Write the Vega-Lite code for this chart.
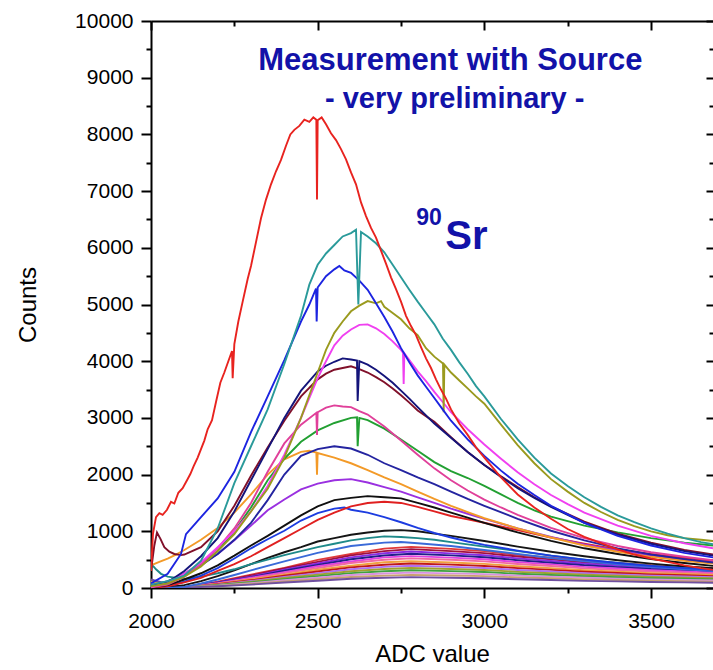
{
"$schema": "https://vega.github.io/schema/vega-lite/v6.json",
"width": 562, "height": 567,
"autosize": {"type": "none"},
"padding": {"left": 151, "top": 21, "right": 0, "bottom": 82},
"background": "white",
"config": {"view": {"stroke": null}, "font": "Liberation Sans"},
"layer": [
{
"data": {"values": [
{"s":"L1","x":2000,"y":60},{"s":"L1","x":2050,"y":20},{"s":"L1","x":2100,"y":15},{"s":"L1","x":2200,"y":110},{"s":"L1","x":2300,"y":235},{"s":"L1","x":2400,"y":355},{"s":"L1","x":2500,"y":495},{"s":"L1","x":2600,"y":600},{"s":"L1","x":2700,"y":695},{"s":"L1","x":2780,"y":725},{"s":"L1","x":2900,"y":690},{"s":"L1","x":3000,"y":650},{"s":"L1","x":3100,"y":585},{"s":"L1","x":3200,"y":535},{"s":"L1","x":3300,"y":480},{"s":"L1","x":3400,"y":440},{"s":"L1","x":3500,"y":400},{"s":"L1","x":3600,"y":375},{"s":"L1","x":3686,"y":350},
{"s":"L2","x":2000,"y":30},{"s":"L2","x":2050,"y":10},{"s":"L2","x":2100,"y":12},{"s":"L2","x":2200,"y":100},{"s":"L2","x":2300,"y":220},{"s":"L2","x":2400,"y":345},{"s":"L2","x":2500,"y":460},{"s":"L2","x":2600,"y":575},{"s":"L2","x":2700,"y":650},{"s":"L2","x":2780,"y":685},{"s":"L2","x":2900,"y":650},{"s":"L2","x":3000,"y":615},{"s":"L2","x":3100,"y":555},{"s":"L2","x":3200,"y":505},{"s":"L2","x":3300,"y":455},{"s":"L2","x":3400,"y":418},{"s":"L2","x":3500,"y":380},{"s":"L2","x":3600,"y":355},{"s":"L2","x":3686,"y":335},
{"s":"L3","x":2000,"y":90},{"s":"L3","x":2050,"y":40},{"s":"L3","x":2100,"y":13},{"s":"L3","x":2200,"y":98},{"s":"L3","x":2300,"y":200},{"s":"L3","x":2400,"y":325},{"s":"L3","x":2500,"y":432},{"s":"L3","x":2600,"y":540},{"s":"L3","x":2700,"y":612},{"s":"L3","x":2780,"y":645},{"s":"L3","x":2900,"y":610},{"s":"L3","x":3000,"y":578},{"s":"L3","x":3100,"y":522},{"s":"L3","x":3200,"y":476},{"s":"L3","x":3300,"y":428},{"s":"L3","x":3400,"y":392},{"s":"L3","x":3500,"y":356},{"s":"L3","x":3600,"y":335},{"s":"L3","x":3686,"y":312},
{"s":"L4","x":2000,"y":20},{"s":"L4","x":2050,"y":5},{"s":"L4","x":2100,"y":10},{"s":"L4","x":2200,"y":92},{"s":"L4","x":2300,"y":190},{"s":"L4","x":2400,"y":305},{"s":"L4","x":2500,"y":405},{"s":"L4","x":2600,"y":506},{"s":"L4","x":2700,"y":574},{"s":"L4","x":2780,"y":604},{"s":"L4","x":2900,"y":575},{"s":"L4","x":3000,"y":542},{"s":"L4","x":3100,"y":490},{"s":"L4","x":3200,"y":446},{"s":"L4","x":3300,"y":400},{"s":"L4","x":3400,"y":368},{"s":"L4","x":3500,"y":334},{"s":"L4","x":3600,"y":314},{"s":"L4","x":3686,"y":292},
{"s":"L5","x":2000,"y":50},{"s":"L5","x":2050,"y":15},{"s":"L5","x":2100,"y":11},{"s":"L5","x":2200,"y":85},{"s":"L5","x":2300,"y":182},{"s":"L5","x":2400,"y":278},{"s":"L5","x":2500,"y":384},{"s":"L5","x":2600,"y":468},{"s":"L5","x":2700,"y":540},{"s":"L5","x":2780,"y":562},{"s":"L5","x":2900,"y":536},{"s":"L5","x":3000,"y":506},{"s":"L5","x":3100,"y":457},{"s":"L5","x":3200,"y":416},{"s":"L5","x":3300,"y":373},{"s":"L5","x":3400,"y":344},{"s":"L5","x":3500,"y":312},{"s":"L5","x":3600,"y":293},{"s":"L5","x":3686,"y":272},
{"s":"L6","x":2000,"y":10},{"s":"L6","x":2050,"y":5},{"s":"L6","x":2100,"y":10},{"s":"L6","x":2200,"y":80},{"s":"L6","x":2300,"y":165},{"s":"L6","x":2400,"y":262},{"s":"L6","x":2500,"y":352},{"s":"L6","x":2600,"y":440},{"s":"L6","x":2700,"y":497},{"s":"L6","x":2780,"y":522},{"s":"L6","x":2900,"y":498},{"s":"L6","x":3000,"y":470},{"s":"L6","x":3100,"y":424},{"s":"L6","x":3200,"y":387},{"s":"L6","x":3300,"y":346},{"s":"L6","x":3400,"y":318},{"s":"L6","x":3500,"y":290},{"s":"L6","x":3600,"y":272},{"s":"L6","x":3686,"y":254},
{"s":"L7","x":2000,"y":120},{"s":"L7","x":2050,"y":60},{"s":"L7","x":2100,"y":9},{"s":"L7","x":2200,"y":72},{"s":"L7","x":2300,"y":152},{"s":"L7","x":2400,"y":233},{"s":"L7","x":2500,"y":322},{"s":"L7","x":2600,"y":393},{"s":"L7","x":2700,"y":453},{"s":"L7","x":2780,"y":472},{"s":"L7","x":2900,"y":450},{"s":"L7","x":3000,"y":425},{"s":"L7","x":3100,"y":383},{"s":"L7","x":3200,"y":350},{"s":"L7","x":3300,"y":313},{"s":"L7","x":3400,"y":288},{"s":"L7","x":3500,"y":262},{"s":"L7","x":3600,"y":246},{"s":"L7","x":3686,"y":228},
{"s":"L8","x":2000,"y":40},{"s":"L8","x":2050,"y":10},{"s":"L8","x":2100,"y":8},{"s":"L8","x":2200,"y":66},{"s":"L8","x":2300,"y":136},{"s":"L8","x":2400,"y":217},{"s":"L8","x":2500,"y":290},{"s":"L8","x":2600,"y":363},{"s":"L8","x":2700,"y":411},{"s":"L8","x":2780,"y":432},{"s":"L8","x":2900,"y":412},{"s":"L8","x":3000,"y":389},{"s":"L8","x":3100,"y":351},{"s":"L8","x":3200,"y":320},{"s":"L8","x":3300,"y":286},{"s":"L8","x":3400,"y":264},{"s":"L8","x":3500,"y":240},{"s":"L8","x":3600,"y":225},{"s":"L8","x":3686,"y":210},
{"s":"L9","x":2000,"y":70},{"s":"L9","x":2050,"y":30},{"s":"L9","x":2100,"y":8},{"s":"L9","x":2200,"y":60},{"s":"L9","x":2300,"y":124},{"s":"L9","x":2400,"y":197},{"s":"L9","x":2500,"y":263},{"s":"L9","x":2600,"y":330},{"s":"L9","x":2700,"y":372},{"s":"L9","x":2780,"y":392},{"s":"L9","x":2900,"y":373},{"s":"L9","x":3000,"y":353},{"s":"L9","x":3100,"y":318},{"s":"L9","x":3200,"y":290},{"s":"L9","x":3300,"y":260},{"s":"L9","x":3400,"y":240},{"s":"L9","x":3500,"y":217},{"s":"L9","x":3600,"y":204},{"s":"L9","x":3686,"y":190},
{"s":"L10","x":2000,"y":20},{"s":"L10","x":2050,"y":5},{"s":"L10","x":2100,"y":7},{"s":"L10","x":2200,"y":54},{"s":"L10","x":2300,"y":110},{"s":"L10","x":2400,"y":177},{"s":"L10","x":2500,"y":236},{"s":"L10","x":2600,"y":296},{"s":"L10","x":2700,"y":334},{"s":"L10","x":2780,"y":352},{"s":"L10","x":2900,"y":335},{"s":"L10","x":3000,"y":317},{"s":"L10","x":3100,"y":285},{"s":"L10","x":3200,"y":260},{"s":"L10","x":3300,"y":233},{"s":"L10","x":3400,"y":215},{"s":"L10","x":3500,"y":195},{"s":"L10","x":3600,"y":183},{"s":"L10","x":3686,"y":171},
{"s":"L11","x":2000,"y":30},{"s":"L11","x":2050,"y":10},{"s":"L11","x":2100,"y":6},{"s":"L11","x":2200,"y":48},{"s":"L11","x":2300,"y":98},{"s":"L11","x":2400,"y":157},{"s":"L11","x":2500,"y":209},{"s":"L11","x":2600,"y":262},{"s":"L11","x":2700,"y":296},{"s":"L11","x":2780,"y":312},{"s":"L11","x":2900,"y":297},{"s":"L11","x":3000,"y":281},{"s":"L11","x":3100,"y":252},{"s":"L11","x":3200,"y":230},{"s":"L11","x":3300,"y":206},{"s":"L11","x":3400,"y":190},{"s":"L11","x":3500,"y":173},{"s":"L11","x":3600,"y":162},{"s":"L11","x":3686,"y":151},
{"s":"L12","x":2000,"y":60},{"s":"L12","x":2050,"y":25},{"s":"L12","x":2100,"y":5},{"s":"L12","x":2200,"y":42},{"s":"L12","x":2300,"y":85},{"s":"L12","x":2400,"y":137},{"s":"L12","x":2500,"y":182},{"s":"L12","x":2600,"y":229},{"s":"L12","x":2700,"y":257},{"s":"L12","x":2780,"y":272},{"s":"L12","x":2900,"y":258},{"s":"L12","x":3000,"y":245},{"s":"L12","x":3100,"y":219},{"s":"L12","x":3200,"y":201},{"s":"L12","x":3300,"y":180},{"s":"L12","x":3400,"y":166},{"s":"L12","x":3500,"y":150},{"s":"L12","x":3600,"y":141},{"s":"L12","x":3686,"y":131},
{"s":"L13","x":2000,"y":10},{"s":"L13","x":2050,"y":5},{"s":"L13","x":2100,"y":5},{"s":"L13","x":2200,"y":36},{"s":"L13","x":2300,"y":73},{"s":"L13","x":2400,"y":117},{"s":"L13","x":2500,"y":155},{"s":"L13","x":2600,"y":195},{"s":"L13","x":2700,"y":219},{"s":"L13","x":2780,"y":232},{"s":"L13","x":2900,"y":220},{"s":"L13","x":3000,"y":209},{"s":"L13","x":3100,"y":187},{"s":"L13","x":3200,"y":171},{"s":"L13","x":3300,"y":153},{"s":"L13","x":3400,"y":141},{"s":"L13","x":3500,"y":128},{"s":"L13","x":3600,"y":121},{"s":"L13","x":3686,"y":112},
{"s":"L14","x":2000,"y":150},{"s":"L14","x":2050,"y":70},{"s":"L14","x":2100,"y":4},{"s":"L14","x":2200,"y":30},{"s":"L14","x":2300,"y":60},{"s":"L14","x":2400,"y":97},{"s":"L14","x":2500,"y":128},{"s":"L14","x":2600,"y":162},{"s":"L14","x":2700,"y":180},{"s":"L14","x":2780,"y":192},{"s":"L14","x":2900,"y":181},{"s":"L14","x":3000,"y":173},{"s":"L14","x":3100,"y":154},{"s":"L14","x":3200,"y":142},{"s":"L14","x":3300,"y":126},{"s":"L14","x":3400,"y":117},{"s":"L14","x":3500,"y":105},{"s":"L14","x":3600,"y":100},{"s":"L14","x":3686,"y":92},
{"s":"K2","x":2000,"y":30},{"s":"K2","x":2050,"y":10},{"s":"K2","x":2100,"y":50},{"s":"K2","x":2150,"y":120},{"s":"K2","x":2200,"y":210},{"s":"K2","x":2250,"y":310},{"s":"K2","x":2300,"y":420},{"s":"K2","x":2350,"y":530},{"s":"K2","x":2400,"y":630},{"s":"K2","x":2450,"y":720},{"s":"K2","x":2500,"y":820},{"s":"K2","x":2550,"y":880},{"s":"K2","x":2600,"y":940},{"s":"K2","x":2650,"y":980},{"s":"K2","x":2700,"y":1010},{"s":"K2","x":2750,"y":1020},{"s":"K2","x":2800,"y":1000},{"s":"K2","x":2850,"y":960},{"s":"K2","x":2900,"y":920},{"s":"K2","x":3000,"y":830},{"s":"K2","x":3100,"y":730},{"s":"K2","x":3200,"y":640},{"s":"K2","x":3300,"y":560},{"s":"K2","x":3400,"y":490},{"s":"K2","x":3500,"y":430},{"s":"K2","x":3600,"y":380},{"s":"K2","x":3686,"y":350},
{"s":"T2","x":2000,"y":430},{"s":"T2","x":2015,"y":330},{"s":"T2","x":2030,"y":250},{"s":"T2","x":2050,"y":200},{"s":"T2","x":2100,"y":160},{"s":"T2","x":2150,"y":200},{"s":"T2","x":2200,"y":260},{"s":"T2","x":2250,"y":330},{"s":"T2","x":2300,"y":420},{"s":"T2","x":2350,"y":500},{"s":"T2","x":2400,"y":580},{"s":"T2","x":2450,"y":650},{"s":"T2","x":2500,"y":720},{"s":"T2","x":2550,"y":780},{"s":"T2","x":2600,"y":840},{"s":"T2","x":2650,"y":880},{"s":"T2","x":2700,"y":910},{"s":"T2","x":2750,"y":900},{"s":"T2","x":2800,"y":880},{"s":"T2","x":2850,"y":850},{"s":"T2","x":2900,"y":810},{"s":"T2","x":3000,"y":730},{"s":"T2","x":3100,"y":650},{"s":"T2","x":3200,"y":570},{"s":"T2","x":3300,"y":500},{"s":"T2","x":3400,"y":440},{"s":"T2","x":3500,"y":390},{"s":"T2","x":3600,"y":350},{"s":"T2","x":3686,"y":320},
{"s":"B4","x":2000,"y":60},{"s":"B4","x":2050,"y":0},{"s":"B4","x":2100,"y":20},{"s":"B4","x":2150,"y":80},{"s":"B4","x":2200,"y":150},{"s":"B4","x":2250,"y":230},{"s":"B4","x":2300,"y":310},{"s":"B4","x":2400,"y":470},{"s":"B4","x":2500,"y":620},{"s":"B4","x":2600,"y":740},{"s":"B4","x":2700,"y":800},{"s":"B4","x":2750,"y":810},{"s":"B4","x":2800,"y":790},{"s":"B4","x":2900,"y":740},{"s":"B4","x":3000,"y":670},{"s":"B4","x":3100,"y":600},{"s":"B4","x":3200,"y":530},{"s":"B4","x":3300,"y":470},{"s":"B4","x":3400,"y":420},{"s":"B4","x":3500,"y":370},{"s":"B4","x":3600,"y":330},{"s":"B4","x":3686,"y":300},
{"s":"B3","x":2000,"y":0},{"s":"B3","x":2050,"y":40},{"s":"B3","x":2100,"y":110},{"s":"B3","x":2150,"y":220},{"s":"B3","x":2200,"y":350},{"s":"B3","x":2250,"y":520},{"s":"B3","x":2300,"y":700},{"s":"B3","x":2350,"y":860},{"s":"B3","x":2400,"y":1010},{"s":"B3","x":2450,"y":1190},{"s":"B3","x":2500,"y":1320},{"s":"B3","x":2550,"y":1400},{"s":"B3","x":2580,"y":1420},{"s":"B3","x":2600,"y":1380},{"s":"B3","x":2650,"y":1330},{"s":"B3","x":2700,"y":1250},{"s":"B3","x":2750,"y":1160},{"s":"B3","x":2800,"y":1060},{"s":"B3","x":2850,"y":970},{"s":"B3","x":2900,"y":890},{"s":"B3","x":2950,"y":820},{"s":"B3","x":3000,"y":760},{"s":"B3","x":3100,"y":660},{"s":"B3","x":3200,"y":570},{"s":"B3","x":3300,"y":500},{"s":"B3","x":3400,"y":440},{"s":"B3","x":3500,"y":390},{"s":"B3","x":3600,"y":350},{"s":"B3","x":3686,"y":320},
{"s":"R2","x":2000,"y":0},{"s":"R2","x":2050,"y":30},{"s":"R2","x":2100,"y":100},{"s":"R2","x":2150,"y":180},{"s":"R2","x":2200,"y":300},{"s":"R2","x":2250,"y":420},{"s":"R2","x":2300,"y":560},{"s":"R2","x":2350,"y":720},{"s":"R2","x":2400,"y":880},{"s":"R2","x":2450,"y":1040},{"s":"R2","x":2500,"y":1200},{"s":"R2","x":2550,"y":1330},{"s":"R2","x":2600,"y":1440},{"s":"R2","x":2650,"y":1500},{"s":"R2","x":2700,"y":1520},{"s":"R2","x":2750,"y":1500},{"s":"R2","x":2800,"y":1430},{"s":"R2","x":2850,"y":1350},{"s":"R2","x":2900,"y":1270},{"s":"R2","x":2950,"y":1210},{"s":"R2","x":3000,"y":1150},{"s":"R2","x":3100,"y":1020},{"s":"R2","x":3200,"y":890},{"s":"R2","x":3300,"y":780},{"s":"R2","x":3400,"y":680},{"s":"R2","x":3500,"y":600},{"s":"R2","x":3600,"y":530},{"s":"R2","x":3686,"y":480},
{"s":"K1","x":2000,"y":10},{"s":"K1","x":2050,"y":50},{"s":"K1","x":2100,"y":150},{"s":"K1","x":2150,"y":260},{"s":"K1","x":2200,"y":400},{"s":"K1","x":2250,"y":570},{"s":"K1","x":2300,"y":750},{"s":"K1","x":2350,"y":920},{"s":"K1","x":2400,"y":1100},{"s":"K1","x":2450,"y":1280},{"s":"K1","x":2500,"y":1440},{"s":"K1","x":2550,"y":1550},{"s":"K1","x":2600,"y":1590},{"s":"K1","x":2650,"y":1620},{"s":"K1","x":2700,"y":1600},{"s":"K1","x":2750,"y":1580},{"s":"K1","x":2800,"y":1500},{"s":"K1","x":2850,"y":1420},{"s":"K1","x":2900,"y":1330},{"s":"K1","x":2950,"y":1240},{"s":"K1","x":3000,"y":1150},{"s":"K1","x":3100,"y":980},{"s":"K1","x":3200,"y":830},{"s":"K1","x":3300,"y":700},{"s":"K1","x":3400,"y":600},{"s":"K1","x":3500,"y":510},{"s":"K1","x":3600,"y":440},{"s":"K1","x":3686,"y":390},
{"s":"V1","x":2000,"y":10},{"s":"V1","x":2050,"y":90},{"s":"V1","x":2100,"y":260},{"s":"V1","x":2150,"y":420},{"s":"V1","x":2200,"y":600},{"s":"V1","x":2250,"y":840},{"s":"V1","x":2300,"y":1100},{"s":"V1","x":2350,"y":1370},{"s":"V1","x":2400,"y":1560},{"s":"V1","x":2450,"y":1740},{"s":"V1","x":2500,"y":1840},{"s":"V1","x":2550,"y":1900},{"s":"V1","x":2600,"y":1920},{"s":"V1","x":2650,"y":1860},{"s":"V1","x":2700,"y":1780},{"s":"V1","x":2750,"y":1700},{"s":"V1","x":2800,"y":1600},{"s":"V1","x":2850,"y":1500},{"s":"V1","x":2900,"y":1400},{"s":"V1","x":2950,"y":1310},{"s":"V1","x":3000,"y":1220},{"s":"V1","x":3100,"y":1050},{"s":"V1","x":3200,"y":900},{"s":"V1","x":3300,"y":770},{"s":"V1","x":3400,"y":660},{"s":"V1","x":3500,"y":570},{"s":"V1","x":3600,"y":500},{"s":"V1","x":3686,"y":450},
{"s":"OR","x":2000,"y":400},{"s":"OR","x":2025,"y":460},{"s":"OR","x":2050,"y":520},{"s":"OR","x":2075,"y":590},{"s":"OR","x":2100,"y":670},{"s":"OR","x":2150,"y":850},{"s":"OR","x":2200,"y":1060},{"s":"OR","x":2250,"y":1330},{"s":"OR","x":2300,"y":1650},{"s":"OR","x":2350,"y":2000},{"s":"OR","x":2400,"y":2270},{"s":"OR","x":2450,"y":2400},{"s":"OR","x":2475,"y":2420},{"s":"OR","x":2496,"y":2390},{"s":"OR","x":2498,"y":2000},{"s":"OR","x":2500,"y":2380},{"s":"OR","x":2550,"y":2300},{"s":"OR","x":2600,"y":2200},{"s":"OR","x":2650,"y":2080},{"s":"OR","x":2700,"y":1950},{"s":"OR","x":2750,"y":1830},{"s":"OR","x":2800,"y":1700},{"s":"OR","x":2850,"y":1570},{"s":"OR","x":2900,"y":1450},{"s":"OR","x":2950,"y":1340},{"s":"OR","x":3000,"y":1230},{"s":"OR","x":3100,"y":1050},{"s":"OR","x":3200,"y":890},{"s":"OR","x":3300,"y":750},{"s":"OR","x":3400,"y":640},{"s":"OR","x":3500,"y":550},{"s":"OR","x":3600,"y":480},{"s":"OR","x":3686,"y":430},
{"s":"B2","x":2000,"y":40},{"s":"B2","x":2050,"y":120},{"s":"B2","x":2100,"y":240},{"s":"B2","x":2150,"y":400},{"s":"B2","x":2200,"y":600},{"s":"B2","x":2250,"y":850},{"s":"B2","x":2300,"y":1150},{"s":"B2","x":2350,"y":1550},{"s":"B2","x":2400,"y":2000},{"s":"B2","x":2450,"y":2330},{"s":"B2","x":2500,"y":2450},{"s":"B2","x":2550,"y":2500},{"s":"B2","x":2600,"y":2460},{"s":"B2","x":2650,"y":2350},{"s":"B2","x":2700,"y":2200},{"s":"B2","x":2750,"y":2080},{"s":"B2","x":2800,"y":1950},{"s":"B2","x":2850,"y":1830},{"s":"B2","x":2900,"y":1700},{"s":"B2","x":2950,"y":1570},{"s":"B2","x":3000,"y":1450},{"s":"B2","x":3100,"y":1220},{"s":"B2","x":3200,"y":1010},{"s":"B2","x":3300,"y":840},{"s":"B2","x":3400,"y":700},{"s":"B2","x":3500,"y":590},{"s":"B2","x":3600,"y":510},{"s":"B2","x":3686,"y":450},
{"s":"G1","x":2000,"y":30},{"s":"G1","x":2050,"y":70},{"s":"G1","x":2100,"y":220},{"s":"G1","x":2150,"y":400},{"s":"G1","x":2200,"y":650},{"s":"G1","x":2250,"y":1000},{"s":"G1","x":2300,"y":1420},{"s":"G1","x":2350,"y":1900},{"s":"G1","x":2400,"y":2280},{"s":"G1","x":2450,"y":2580},{"s":"G1","x":2500,"y":2780},{"s":"G1","x":2550,"y":2910},{"s":"G1","x":2600,"y":3000},{"s":"G1","x":2618,"y":3010},{"s":"G1","x":2620,"y":2500},{"s":"G1","x":2625,"y":3000},{"s":"G1","x":2650,"y":2960},{"s":"G1","x":2700,"y":2810},{"s":"G1","x":2750,"y":2620},{"s":"G1","x":2800,"y":2420},{"s":"G1","x":2850,"y":2220},{"s":"G1","x":2900,"y":2060},{"s":"G1","x":2950,"y":1940},{"s":"G1","x":3000,"y":1800},{"s":"G1","x":3050,"y":1650},{"s":"G1","x":3100,"y":1500},{"s":"G1","x":3150,"y":1370},{"s":"G1","x":3200,"y":1260},{"s":"G1","x":3300,"y":1100},{"s":"G1","x":3400,"y":980},{"s":"G1","x":3500,"y":880},{"s":"G1","x":3600,"y":800},{"s":"G1","x":3686,"y":750},
{"s":"P1","x":2000,"y":10},{"s":"P1","x":2050,"y":60},{"s":"P1","x":2100,"y":200},{"s":"P1","x":2150,"y":420},{"s":"P1","x":2200,"y":700},{"s":"P1","x":2250,"y":1050},{"s":"P1","x":2300,"y":1500},{"s":"P1","x":2350,"y":2050},{"s":"P1","x":2400,"y":2550},{"s":"P1","x":2450,"y":2880},{"s":"P1","x":2496,"y":3090},{"s":"P1","x":2498,"y":2700},{"s":"P1","x":2500,"y":3100},{"s":"P1","x":2525,"y":3180},{"s":"P1","x":2550,"y":3220},{"s":"P1","x":2575,"y":3200},{"s":"P1","x":2600,"y":3190},{"s":"P1","x":2625,"y":3120},{"s":"P1","x":2650,"y":3060},{"s":"P1","x":2700,"y":2850},{"s":"P1","x":2750,"y":2600},{"s":"P1","x":2800,"y":2350},{"s":"P1","x":2850,"y":2110},{"s":"P1","x":2900,"y":1900},{"s":"P1","x":2950,"y":1720},{"s":"P1","x":3000,"y":1560},{"s":"P1","x":3050,"y":1420},{"s":"P1","x":3100,"y":1290},{"s":"P1","x":3200,"y":1060},{"s":"P1","x":3300,"y":880},{"s":"P1","x":3400,"y":740},{"s":"P1","x":3500,"y":630},{"s":"P1","x":3600,"y":550},{"s":"P1","x":3686,"y":490},
{"s":"D1","x":2000,"y":300},{"s":"D1","x":2010,"y":750},{"s":"D1","x":2018,"y":980},{"s":"D1","x":2028,"y":870},{"s":"D1","x":2040,"y":720},{"s":"D1","x":2055,"y":640},{"s":"D1","x":2070,"y":600},{"s":"D1","x":2090,"y":580},{"s":"D1","x":2100,"y":590},{"s":"D1","x":2150,"y":720},{"s":"D1","x":2200,"y":1000},{"s":"D1","x":2250,"y":1450},{"s":"D1","x":2300,"y":1980},{"s":"D1","x":2350,"y":2480},{"s":"D1","x":2400,"y":2950},{"s":"D1","x":2450,"y":3380},{"s":"D1","x":2500,"y":3680},{"s":"D1","x":2525,"y":3780},{"s":"D1","x":2550,"y":3850},{"s":"D1","x":2575,"y":3880},{"s":"D1","x":2600,"y":3910},{"s":"D1","x":2625,"y":3860},{"s":"D1","x":2650,"y":3800},{"s":"D1","x":2675,"y":3720},{"s":"D1","x":2700,"y":3630},{"s":"D1","x":2725,"y":3520},{"s":"D1","x":2750,"y":3400},{"s":"D1","x":2775,"y":3270},{"s":"D1","x":2800,"y":3130},{"s":"D1","x":2850,"y":2930},{"s":"D1","x":2900,"y":2660},{"s":"D1","x":2950,"y":2400},{"s":"D1","x":3000,"y":2170},{"s":"D1","x":3050,"y":1970},{"s":"D1","x":3100,"y":1780},{"s":"D1","x":3150,"y":1600},{"s":"D1","x":3200,"y":1440},{"s":"D1","x":3300,"y":1170},{"s":"D1","x":3400,"y":960},{"s":"D1","x":3500,"y":800},{"s":"D1","x":3600,"y":670},{"s":"D1","x":3686,"y":590},
{"s":"N1","x":2000,"y":30},{"s":"N1","x":2050,"y":100},{"s":"N1","x":2100,"y":300},{"s":"N1","x":2150,"y":560},{"s":"N1","x":2200,"y":880},{"s":"N1","x":2250,"y":1350},{"s":"N1","x":2300,"y":1900},{"s":"N1","x":2350,"y":2450},{"s":"N1","x":2400,"y":3000},{"s":"N1","x":2450,"y":3480},{"s":"N1","x":2500,"y":3820},{"s":"N1","x":2525,"y":3920},{"s":"N1","x":2550,"y":3990},{"s":"N1","x":2575,"y":4050},{"s":"N1","x":2600,"y":4030},{"s":"N1","x":2618,"y":4010},{"s":"N1","x":2620,"y":3300},{"s":"N1","x":2625,"y":4000},{"s":"N1","x":2650,"y":3940},{"s":"N1","x":2675,"y":3850},{"s":"N1","x":2700,"y":3740},{"s":"N1","x":2725,"y":3620},{"s":"N1","x":2750,"y":3480},{"s":"N1","x":2775,"y":3340},{"s":"N1","x":2800,"y":3190},{"s":"N1","x":2850,"y":2900},{"s":"N1","x":2900,"y":2650},{"s":"N1","x":2950,"y":2400},{"s":"N1","x":3000,"y":2170},{"s":"N1","x":3050,"y":1960},{"s":"N1","x":3100,"y":1760},{"s":"N1","x":3150,"y":1590},{"s":"N1","x":3200,"y":1430},{"s":"N1","x":3300,"y":1150},{"s":"N1","x":3400,"y":940},{"s":"N1","x":3500,"y":780},{"s":"N1","x":3600,"y":650},{"s":"N1","x":3686,"y":570},
{"s":"M1","x":2000,"y":20},{"s":"M1","x":2050,"y":80},{"s":"M1","x":2100,"y":250},{"s":"M1","x":2150,"y":450},{"s":"M1","x":2200,"y":720},{"s":"M1","x":2250,"y":1000},{"s":"M1","x":2300,"y":1350},{"s":"M1","x":2350,"y":1800},{"s":"M1","x":2400,"y":2350},{"s":"M1","x":2450,"y":3000},{"s":"M1","x":2500,"y":3700},{"s":"M1","x":2525,"y":4000},{"s":"M1","x":2550,"y":4280},{"s":"M1","x":2575,"y":4450},{"s":"M1","x":2600,"y":4560},{"s":"M1","x":2625,"y":4640},{"s":"M1","x":2650,"y":4650},{"s":"M1","x":2675,"y":4580},{"s":"M1","x":2700,"y":4480},{"s":"M1","x":2725,"y":4350},{"s":"M1","x":2750,"y":4200},{"s":"M1","x":2756,"y":4150},{"s":"M1","x":2758,"y":3600},{"s":"M1","x":2760,"y":4140},{"s":"M1","x":2775,"y":4020},{"s":"M1","x":2800,"y":3820},{"s":"M1","x":2825,"y":3650},{"s":"M1","x":2850,"y":3460},{"s":"M1","x":2875,"y":3280},{"s":"M1","x":2900,"y":3100},{"s":"M1","x":2950,"y":2800},{"s":"M1","x":3000,"y":2530},{"s":"M1","x":3050,"y":2280},{"s":"M1","x":3100,"y":2040},{"s":"M1","x":3150,"y":1830},{"s":"M1","x":3200,"y":1640},{"s":"M1","x":3250,"y":1480},{"s":"M1","x":3300,"y":1330},{"s":"M1","x":3400,"y":1100},{"s":"M1","x":3500,"y":920},{"s":"M1","x":3600,"y":790},{"s":"M1","x":3686,"y":700},
{"s":"OL","x":2000,"y":30},{"s":"OL","x":2050,"y":80},{"s":"OL","x":2100,"y":200},{"s":"OL","x":2150,"y":380},{"s":"OL","x":2200,"y":650},{"s":"OL","x":2250,"y":950},{"s":"OL","x":2300,"y":1350},{"s":"OL","x":2350,"y":1750},{"s":"OL","x":2400,"y":2300},{"s":"OL","x":2450,"y":3000},{"s":"OL","x":2500,"y":3800},{"s":"OL","x":2525,"y":4200},{"s":"OL","x":2550,"y":4500},{"s":"OL","x":2575,"y":4700},{"s":"OL","x":2600,"y":4880},{"s":"OL","x":2625,"y":4980},{"s":"OL","x":2650,"y":5060},{"s":"OL","x":2675,"y":5020},{"s":"OL","x":2690,"y":5060},{"s":"OL","x":2700,"y":4960},{"s":"OL","x":2725,"y":4850},{"s":"OL","x":2750,"y":4740},{"s":"OL","x":2775,"y":4580},{"s":"OL","x":2800,"y":4460},{"s":"OL","x":2825,"y":4230},{"s":"OL","x":2850,"y":4080},{"s":"OL","x":2876,"y":3960},{"s":"OL","x":2878,"y":3100},{"s":"OL","x":2880,"y":3940},{"s":"OL","x":2900,"y":3800},{"s":"OL","x":2925,"y":3660},{"s":"OL","x":2950,"y":3520},{"s":"OL","x":2975,"y":3380},{"s":"OL","x":3000,"y":3250},{"s":"OL","x":3050,"y":2880},{"s":"OL","x":3100,"y":2520},{"s":"OL","x":3150,"y":2200},{"s":"OL","x":3200,"y":1920},{"s":"OL","x":3250,"y":1700},{"s":"OL","x":3300,"y":1500},{"s":"OL","x":3350,"y":1340},{"s":"OL","x":3400,"y":1200},{"s":"OL","x":3450,"y":1090},{"s":"OL","x":3500,"y":1000},{"s":"OL","x":3550,"y":930},{"s":"OL","x":3600,"y":880},{"s":"OL","x":3650,"y":850},{"s":"OL","x":3686,"y":830},
{"s":"B1","x":2000,"y":80},{"s":"B1","x":2050,"y":250},{"s":"B1","x":2090,"y":600},{"s":"B1","x":2105,"y":950},{"s":"B1","x":2150,"y":1250},{"s":"B1","x":2200,"y":1580},{"s":"B1","x":2250,"y":2050},{"s":"B1","x":2300,"y":2750},{"s":"B1","x":2350,"y":3380},{"s":"B1","x":2400,"y":4020},{"s":"B1","x":2450,"y":4700},{"s":"B1","x":2475,"y":5000},{"s":"B1","x":2495,"y":5280},{"s":"B1","x":2497,"y":4700},{"s":"B1","x":2500,"y":5300},{"s":"B1","x":2525,"y":5500},{"s":"B1","x":2550,"y":5620},{"s":"B1","x":2565,"y":5680},{"s":"B1","x":2580,"y":5600},{"s":"B1","x":2600,"y":5560},{"s":"B1","x":2625,"y":5420},{"s":"B1","x":2650,"y":5260},{"s":"B1","x":2675,"y":5020},{"s":"B1","x":2700,"y":4780},{"s":"B1","x":2725,"y":4520},{"s":"B1","x":2750,"y":4230},{"s":"B1","x":2775,"y":3980},{"s":"B1","x":2800,"y":3750},{"s":"B1","x":2825,"y":3550},{"s":"B1","x":2850,"y":3350},{"s":"B1","x":2875,"y":3150},{"s":"B1","x":2900,"y":2950},{"s":"B1","x":2950,"y":2620},{"s":"B1","x":3000,"y":2330},{"s":"B1","x":3050,"y":2070},{"s":"B1","x":3100,"y":1840},{"s":"B1","x":3150,"y":1640},{"s":"B1","x":3200,"y":1450},{"s":"B1","x":3300,"y":1150},{"s":"B1","x":3400,"y":920},{"s":"B1","x":3500,"y":750},{"s":"B1","x":3600,"y":620},{"s":"B1","x":3686,"y":540},
{"s":"T1","x":2000,"y":60},{"s":"T1","x":2050,"y":120},{"s":"T1","x":2100,"y":220},{"s":"T1","x":2150,"y":480},{"s":"T1","x":2200,"y":1050},{"s":"T1","x":2250,"y":1850},{"s":"T1","x":2300,"y":2500},{"s":"T1","x":2350,"y":3150},{"s":"T1","x":2400,"y":3950},{"s":"T1","x":2450,"y":4800},{"s":"T1","x":2475,"y":5350},{"s":"T1","x":2500,"y":5700},{"s":"T1","x":2525,"y":5900},{"s":"T1","x":2550,"y":6050},{"s":"T1","x":2575,"y":6200},{"s":"T1","x":2600,"y":6260},{"s":"T1","x":2615,"y":6320},{"s":"T1","x":2622,"y":5000},{"s":"T1","x":2630,"y":6280},{"s":"T1","x":2650,"y":6200},{"s":"T1","x":2675,"y":6080},{"s":"T1","x":2700,"y":5920},{"s":"T1","x":2725,"y":5700},{"s":"T1","x":2750,"y":5480},{"s":"T1","x":2775,"y":5260},{"s":"T1","x":2800,"y":5050},{"s":"T1","x":2825,"y":4850},{"s":"T1","x":2850,"y":4650},{"s":"T1","x":2875,"y":4400},{"s":"T1","x":2900,"y":4200},{"s":"T1","x":2925,"y":3980},{"s":"T1","x":2950,"y":3780},{"s":"T1","x":2975,"y":3560},{"s":"T1","x":3000,"y":3380},{"s":"T1","x":3050,"y":2980},{"s":"T1","x":3100,"y":2620},{"s":"T1","x":3150,"y":2300},{"s":"T1","x":3200,"y":2020},{"s":"T1","x":3250,"y":1800},{"s":"T1","x":3300,"y":1600},{"s":"T1","x":3350,"y":1430},{"s":"T1","x":3400,"y":1280},{"s":"T1","x":3450,"y":1160},{"s":"T1","x":3500,"y":1050},{"s":"T1","x":3550,"y":960},{"s":"T1","x":3600,"y":880},{"s":"T1","x":3650,"y":810},{"s":"T1","x":3686,"y":770},
{"s":"R1","x":2000,"y":300},{"s":"R1","x":2006,"y":960},{"s":"R1","x":2015,"y":1250},{"s":"R1","x":2025,"y":1320},{"s":"R1","x":2035,"y":1290},{"s":"R1","x":2048,"y":1380},{"s":"R1","x":2060,"y":1520},{"s":"R1","x":2070,"y":1490},{"s":"R1","x":2082,"y":1680},{"s":"R1","x":2095,"y":1760},{"s":"R1","x":2108,"y":1900},{"s":"R1","x":2118,"y":2010},{"s":"R1","x":2128,"y":2150},{"s":"R1","x":2140,"y":2300},{"s":"R1","x":2150,"y":2450},{"s":"R1","x":2160,"y":2600},{"s":"R1","x":2170,"y":2800},{"s":"R1","x":2183,"y":2960},{"s":"R1","x":2195,"y":3280},{"s":"R1","x":2208,"y":3620},{"s":"R1","x":2220,"y":3800},{"s":"R1","x":2232,"y":4000},{"s":"R1","x":2243,"y":4180},{"s":"R1","x":2245,"y":3700},{"s":"R1","x":2250,"y":4300},{"s":"R1","x":2262,"y":4700},{"s":"R1","x":2275,"y":5050},{"s":"R1","x":2290,"y":5450},{"s":"R1","x":2300,"y":5680},{"s":"R1","x":2315,"y":6100},{"s":"R1","x":2330,"y":6520},{"s":"R1","x":2345,"y":6850},{"s":"R1","x":2360,"y":7120},{"s":"R1","x":2375,"y":7350},{"s":"R1","x":2390,"y":7550},{"s":"R1","x":2405,"y":7800},{"s":"R1","x":2418,"y":8000},{"s":"R1","x":2430,"y":8080},{"s":"R1","x":2445,"y":8150},{"s":"R1","x":2460,"y":8260},{"s":"R1","x":2475,"y":8220},{"s":"R1","x":2487,"y":8300},{"s":"R1","x":2496,"y":8260},{"s":"R1","x":2498,"y":6850},{"s":"R1","x":2500,"y":8250},{"s":"R1","x":2512,"y":8300},{"s":"R1","x":2525,"y":8180},{"s":"R1","x":2540,"y":8020},{"s":"R1","x":2555,"y":7900},{"s":"R1","x":2570,"y":7740},{"s":"R1","x":2585,"y":7560},{"s":"R1","x":2600,"y":7330},{"s":"R1","x":2615,"y":7120},{"s":"R1","x":2630,"y":6800},{"s":"R1","x":2645,"y":6560},{"s":"R1","x":2660,"y":6350},{"s":"R1","x":2675,"y":6180},{"s":"R1","x":2690,"y":5950},{"s":"R1","x":2705,"y":5720},{"s":"R1","x":2720,"y":5480},{"s":"R1","x":2735,"y":5270},{"s":"R1","x":2750,"y":5050},{"s":"R1","x":2765,"y":4800},{"s":"R1","x":2780,"y":4620},{"s":"R1","x":2795,"y":4460},{"s":"R1","x":2810,"y":4250},{"s":"R1","x":2825,"y":4050},{"s":"R1","x":2840,"y":3880},{"s":"R1","x":2855,"y":3680},{"s":"R1","x":2870,"y":3500},{"s":"R1","x":2885,"y":3340},{"s":"R1","x":2900,"y":3150},{"s":"R1","x":2925,"y":2900},{"s":"R1","x":2950,"y":2700},{"s":"R1","x":2975,"y":2480},{"s":"R1","x":3000,"y":2300},{"s":"R1","x":3050,"y":1950},{"s":"R1","x":3100,"y":1650},{"s":"R1","x":3150,"y":1420},{"s":"R1","x":3200,"y":1220},{"s":"R1","x":3250,"y":1040},{"s":"R1","x":3300,"y":900},{"s":"R1","x":3350,"y":790},{"s":"R1","x":3400,"y":680},{"s":"R1","x":3450,"y":590},{"s":"R1","x":3500,"y":520},{"s":"R1","x":3550,"y":460},{"s":"R1","x":3600,"y":400},{"s":"R1","x":3650,"y":350},{"s":"R1","x":3686,"y":320}
]},
"mark": {"type": "line", "strokeWidth": 1.9, "clip": true},
"encoding": {
"x": {"field": "x", "type": "quantitative", "scale": {"domain": [2000, 3686], "nice": false, "zero": false},
"axis": {"orient": "bottom", "values": [2000, 2250, 2500, 2750, 3000, 3250, 3500], "format": "d", "labelExpr": "datum.value % 500 == 0 ? datum.label : ''", "tickSize": {"condition": {"test": "datum.value % 500 == 0", "value": 10}, "value": 5}, "tickWidth": 2, "tickColor": "black", "domainColor": "black", "domainWidth": 2, "labelFontSize": 21, "labelFont": "Liberation Sans", "labelColor": "black", "labelPadding": 12, "labelOverlap": false, "labelFlush": false, "grid": false, "title": "ADC value", "titleFont": "Liberation Sans", "titleFontSize": 24, "titleFontWeight": "normal", "titleColor": "black", "titlePadding": 11}},
"y": {"field": "y", "type": "quantitative", "scale": {"domain": [0, 10000], "nice": false},
"axis": {"orient": "left", "values": [0, 500, 1000, 1500, 2000, 2500, 3000, 3500, 4000, 4500, 5000, 5500, 6000, 6500, 7000, 7500, 8000, 8500, 9000, 9500, 10000], "format": "d", "labelExpr": "datum.value % 1000 == 0 ? datum.label : ''", "tickSize": {"condition": {"test": "datum.value % 1000 == 0", "value": 10}, "value": 5}, "tickWidth": 2, "tickColor": "black", "domainColor": "black", "domainWidth": 2, "labelFontSize": 21, "labelFont": "Liberation Sans", "labelColor": "black", "labelPadding": 8, "labelOverlap": false, "labelFlush": false, "grid": false, "title": "Counts", "titleFont": "Liberation Sans", "titleFontSize": 24, "titleFontWeight": "normal", "titleColor": "black", "titlePadding": 34}},
"color": {"field": "s", "type": "nominal", "legend": null,
"scale": {"domain": ["L1","L2","L3","L4","L5","L6","L7","L8","L9","L10","L11","L12","L13","L14","K2","T2","B4","B3","R2","K1","V1","OR","B2","G1","P1","D1","N1","M1","OL","B1","T1","R1"],
"range": ["#e03a3a","#a01040","#8a2be2","#20208a","#e040e0","#f06aa0","#f0a040","#c01818","#b070f0","#a0a030","#40a040","#d890e0","#c8a070","#7050a0","#151515","#1f8a8a","#3a6ad8","#1c3ce0","#e02020","#101010","#9a30e0","#f39a28","#2424a0","#22a032","#e0409a","#80102a","#14147a","#f040f0","#9a9a1e","#1c24e0","#2a9a9a","#e8231f"]}}
}
},
{
"data": {"values": [{"x": 2898, "y": 9132, "t": "Measurement with Source"}]},
"mark": {"type": "text", "font": "Liberation Sans", "fontWeight": "bold", "fontSize": 31, "color": "#1212a8", "align": "center", "baseline": "alphabetic"},
"encoding": {
"x": {"field": "x", "type": "quantitative", "scale": {"domain": [2000, 3686], "nice": false, "zero": false},
"axis": {"orient": "top", "values": [2000, 2250, 2500, 2750, 3000, 3250, 3500], "labels": false, "title": null, "tickSize": {"condition": {"test": "datum.value % 500 == 0", "value": -9}, "value": -5}, "tickWidth": 2, "tickColor": "black", "domainColor": "black", "domainWidth": 2, "grid": false}},
"y": {"field": "y", "type": "quantitative", "scale": {"domain": [0, 10000], "nice": false},
"axis": {"orient": "right", "values": [0, 500, 1000, 1500, 2000, 2500, 3000, 3500, 4000, 4500, 5000, 5500, 6000, 6500, 7000, 7500, 8000, 8500, 9000, 9500, 10000], "labels": false, "title": null, "domain": false, "tickSize": {"condition": {"test": "datum.value % 1000 == 0", "value": -7}, "value": -4}, "tickWidth": 2, "tickColor": "black", "grid": false}},
"text": {"field": "t", "type": "nominal"}
}
},
{
"data": {"values": [{"x": 2911, "y": 8462, "t": "- very preliminary -"}]},
"mark": {"type": "text", "font": "Liberation Sans", "fontWeight": "bold", "fontSize": 29, "color": "#1212a8", "align": "center", "baseline": "alphabetic"},
"encoding": {
"x": {"field": "x", "type": "quantitative", "scale": {"domain": [2000, 3686], "nice": false, "zero": false}, "axis": null},
"y": {"field": "y", "type": "quantitative", "scale": {"domain": [0, 10000], "nice": false}, "axis": null},
"text": {"field": "t", "type": "nominal"}
}
},
{
"data": {"values": [{"x": 2883, "y": 5987, "t": "Sr"}]},
"mark": {"type": "text", "font": "Liberation Sans", "fontWeight": "bold", "fontSize": 40, "color": "#1212a8", "align": "left", "baseline": "alphabetic"},
"encoding": {
"x": {"field": "x", "type": "quantitative", "scale": {"domain": [2000, 3686], "nice": false, "zero": false}, "axis": null},
"y": {"field": "y", "type": "quantitative", "scale": {"domain": [0, 10000], "nice": false}, "axis": null},
"text": {"field": "t", "type": "nominal"}
}
},
{
"data": {"values": [{"x": 2796, "y": 6398, "t": "90"}]},
"mark": {"type": "text", "font": "Liberation Sans", "fontWeight": "bold", "fontSize": 23, "color": "#1212a8", "align": "left", "baseline": "alphabetic"},
"encoding": {
"x": {"field": "x", "type": "quantitative", "scale": {"domain": [2000, 3686], "nice": false, "zero": false}, "axis": null},
"y": {"field": "y", "type": "quantitative", "scale": {"domain": [0, 10000], "nice": false}, "axis": null},
"text": {"field": "t", "type": "nominal"}
}
}
],
"resolve": {"axis": {"x": "independent", "y": "independent"}}
}
